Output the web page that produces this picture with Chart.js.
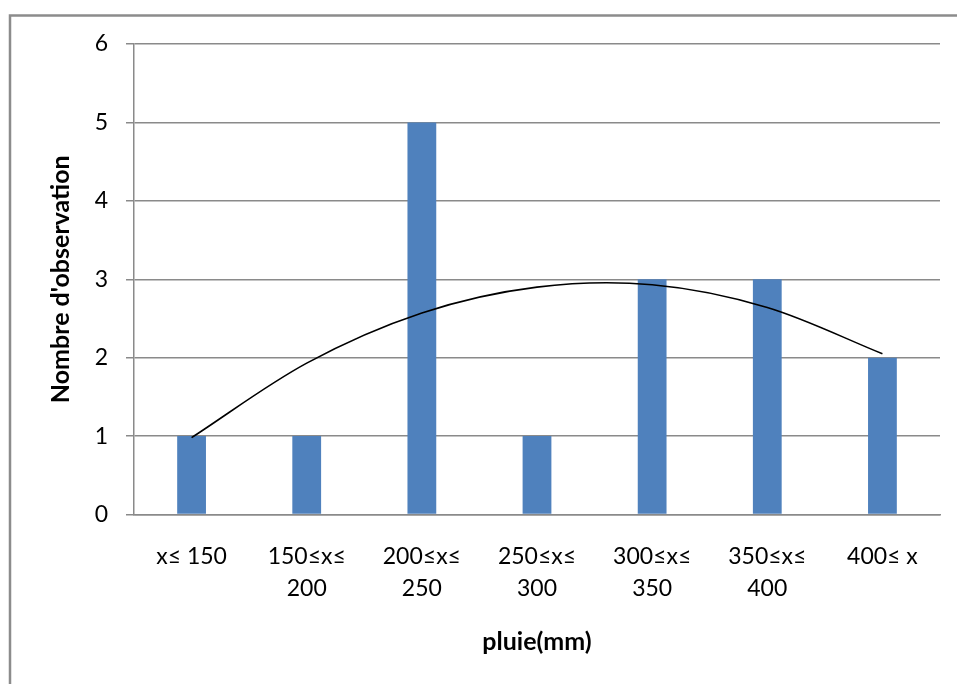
<!DOCTYPE html>
<html>
<head>
<meta charset="utf-8">
<script src="https://cdn.jsdelivr.net/npm/chart.js@4.4.1/dist/chart.umd.min.js"></script>
<style>
  html, body { margin: 0; padding: 0; background: #ffffff; }
  #wrap { width: 957px; height: 684px; position: relative; }
</style>
</head>
<body>
<div id="wrap"><canvas id="chart" width="957" height="684"></canvas></div>
<script>
// Rainfall classes (mm) and number of observations in each class
const categories = [
  ['x\u2264 150'],
  ['150\u2264x\u2264', '200'],
  ['200\u2264x\u2264', '250'],
  ['250\u2264x\u2264', '300'],
  ['300\u2264x\u2264', '350'],
  ['350\u2264x\u2264', '400'],
  ['400\u2264 x']
];
const observations = [1, 1, 5, 1, 3, 3, 2];
// Second-order trend curve values at each class
const trendValues = [0.98, 1.93, 2.57, 2.90, 2.93, 2.64, 2.05];
const yTicks = [0, 1, 2, 3, 4, 5, 6];

const FONT = 'Lato, "Open Sans", "DejaVu Sans", sans-serif';
const GRID = '#8a8a8a';

// Grey frame around the whole chart
const framePlugin = {
  id: 'frame',
  beforeDraw(chart) {
    const ctx = chart.ctx;
    ctx.save();
    ctx.fillStyle = '#ffffff';
    ctx.fillRect(0, 0, chart.width, chart.height);
    ctx.strokeStyle = '#8c8c8c';
    ctx.lineWidth = 2.5;
    ctx.strokeRect(10, 15.5, chart.width + 40, chart.height + 40);
    ctx.restore();
  }
};

new Chart(document.getElementById('chart'), {
  data: {
    labels: categories,
    datasets: [
      {
        type: 'line',
        data: trendValues,
        borderColor: '#000000',
        borderWidth: 1.6,
        pointRadius: 0,
        tension: 0.33,
        fill: false,
        order: 0
      },
      {
        type: 'bar',
        data: observations,
        backgroundColor: '#4f81bd',
        borderWidth: 0,
        categoryPercentage: 1,
        barPercentage: 0.25,
        order: 1
      }
    ]
  },
  options: {
    responsive: false,
    animation: false,
    devicePixelRatio: 1,
    layout: { padding: { left: 0, right: 17, top: 44, bottom: 0 } },
    plugins: {
      legend: { display: false },
      tooltip: { enabled: false }
    },
    scales: {
      x: {
        offset: true,
        grid: { display: false, drawTicks: false },
        border: { display: true, color: GRID, width: 1.5 },
        ticks: {
          color: '#000000',
          font: { family: FONT, size: 23, lineHeight: 1.4 },
          padding: 26,
          maxRotation: 0,
          autoSkip: false
        },
        title: {
          display: true,
          text: 'pluie(mm)',
          color: '#000000',
          font: { family: FONT, size: 25, weight: 'bold', lineHeight: 1.2 },
          padding: { top: 0, bottom: 27 }
        },
        afterFit(scale) { scale.height = 169.5; }
      },
      y: {
        min: 0,
        max: 6,
        afterBuildTicks(scale) { scale.ticks = yTicks.map(v => ({ value: v })); },
        grid: { color: GRID, lineWidth: 1.5, tickLength: 8 },
        border: { display: true, color: GRID, width: 1.5 },
        ticks: {
          color: '#000000',
          font: { family: FONT, size: 23 },
          padding: 18
        },
        title: {
          display: true,
          text: "Nombre d'observation",
          color: '#000000',
          font: { family: FONT, size: 25, weight: 'bold', lineHeight: 1.2 },
          padding: { top: 46, bottom: 0 }
        },
        afterFit(scale) { scale.width = 134; }
      }
    }
  },
  plugins: [framePlugin]
});
</script>
</body>
</html>
